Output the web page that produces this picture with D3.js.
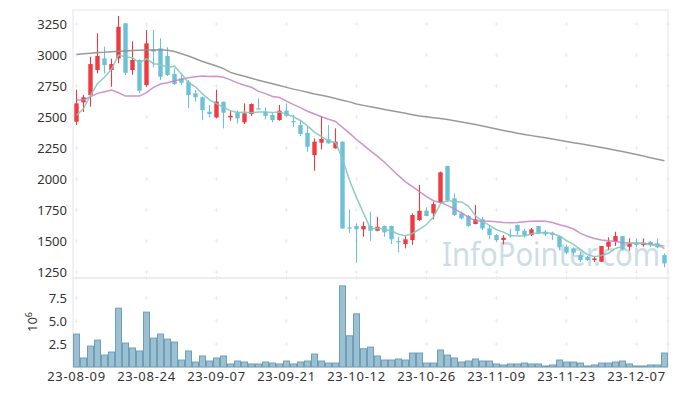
<!DOCTYPE html>
<html>
<head>
<meta charset="utf-8">
<script src="https://cdn.jsdelivr.net/npm/d3@7/dist/d3.min.js"></script>
<style>
  body { margin: 0; background: #fff; }
  svg text { font-family: "Noto Sans", sans-serif; fill: #333; }
</style>
</head>
<body>
<svg id="chart" width="677" height="396"></svg>
<script>
// trading days, 2023-08-09 .. 2023-12-13
const dates = [
  "23-08-09","23-08-10","23-08-11","23-08-14","23-08-16","23-08-17","23-08-18","23-08-21","23-08-22","23-08-23",
  "23-08-24","23-08-25","23-08-28","23-08-29","23-08-30","23-08-31","23-09-01","23-09-04","23-09-05","23-09-06",
  "23-09-07","23-09-08","23-09-11","23-09-12","23-09-13","23-09-14","23-09-15","23-09-18","23-09-19","23-09-20",
  "23-09-21","23-09-22","23-09-25","23-09-26","23-09-27","23-10-04","23-10-05","23-10-06","23-10-10","23-10-11",
  "23-10-12","23-10-13","23-10-16","23-10-17","23-10-18","23-10-19","23-10-20","23-10-23","23-10-24","23-10-25",
  "23-10-26","23-10-27","23-10-30","23-10-31","23-11-01","23-11-02","23-11-03","23-11-06","23-11-07","23-11-08",
  "23-11-09","23-11-10","23-11-13","23-11-14","23-11-15","23-11-16","23-11-17","23-11-20","23-11-21","23-11-22",
  "23-11-23","23-11-24","23-11-27","23-11-28","23-11-29","23-11-30","23-12-01","23-12-04","23-12-05","23-12-06",
  "23-12-07","23-12-08","23-12-11","23-12-12","23-12-13"
];

const opens = [
  2462,2618,2677,2879,2973,2879,2973,3256,2879,2960,
  2758,3046,3054,2992,2847,2812,2785,2691,2659,2543,
  2497,2623,2497,2535,2457,2524,2570,2543,2516,2476,
  2551,2468,2435,2373,2193,2293,2320,2248,2301,1610,
  1621,1594,1621,1583,1621,1621,1500,1476,1508,1669,
  1744,1723,1809,2105,1844,1723,1702,1637,1675,1602,
  1548,1508,1548,1630,1583,1548,1621,1575,1567,1540,
  1454,1441,1387,1373,1347,1333,1454,1494,1540,1454,
  1486,1468,1494,1481,1387
];
const highs = [
  2720,2677,2986,3175,3067,2970,3315,3256,3110,2965,
  3202,3202,3135,3062,2893,2839,2798,2718,2665,2597,
  2720,2625,2551,2551,2610,2610,2651,2578,2530,2597,
  2610,2516,2476,2422,2328,2508,2435,2409,2305,1755,
  1643,1656,1736,1696,1625,1625,1535,1540,1723,1952,
  1772,1817,2060,2108,1885,1736,1710,1790,1696,1621,
  1556,1548,1600,1632,1600,1605,1621,1590,1575,1540,
  1470,1449,1415,1380,1380,1460,1530,1575,1540,1522,
  1522,1522,1500,1520,1400
];
const lows = [
  2435,2540,2583,2852,2852,2744,2933,2839,2840,2691,
  2744,2900,2798,2830,2758,2758,2570,2623,2476,2497,
  2490,2409,2470,2449,2443,2508,2560,2481,2457,2470,
  2502,2422,2347,2220,2067,2239,2285,2245,1598,1567,
  1325,1535,1502,1580,1535,1476,1409,1441,1468,1664,
  1700,1675,1805,1815,1702,1675,1615,1635,1589,1514,
  1494,1473,1528,1548,1527,1540,1555,1540,1508,1427,
  1395,1385,1330,1340,1331,1333,1430,1460,1425,1422,
  1449,1454,1454,1441,1288
];
const closes = [
  2610,2659,2927,2992,2919,2927,3228,2857,2960,2712,
  3094,3027,2825,2839,2766,2777,2677,2659,2556,2524,
  2625,2535,2510,2489,2530,2605,2564,2510,2476,2551,
  2510,2462,2363,2260,2301,2323,2288,2301,1602,1602,
  1594,1621,1583,1615,1570,1514,1495,1514,1710,1744,
  1702,1798,2054,1830,1710,1683,1621,1675,1602,1548,
  1508,1527,1540,1580,1548,1594,1562,1554,1548,1449,
  1406,1406,1347,1347,1360,1460,1494,1540,1433,1486,
  1468,1486,1468,1449,1320
];
// volume in millions of shares
const volumes = [
  3.59,0.98,2.28,2.93,1.30,1.63,6.41,2.61,2.07,1.74,
  5.98,3.15,3.59,3.04,2.72,0.76,1.74,0.54,1.20,0.65,
  0.98,1.20,0.33,0.65,0.54,0.33,0.33,0.54,0.43,0.33,
  0.65,0.33,0.54,0.65,1.41,0.65,0.43,0.43,8.84,3.40,
  5.79,1.99,2.17,1.20,0.76,0.76,0.87,0.76,1.52,1.52,
  0.43,0.43,1.85,1.30,0.98,0.54,0.65,0.87,0.65,0.65,
  0.33,0.22,0.33,0.33,0.43,0.33,0.33,0.11,0.22,0.76,
  0.54,0.54,0.43,0.11,0.22,0.43,0.43,0.54,0.65,0.33,
  0.11,0.11,0.22,0.22,1.52
];

// moving averages as drawn
const ma5 = [
  2514,2568,2675,2770,2821,2885,2999,2985,2978,2937,
  2970,2930,2924,2899,2910,2847,2777,2744,2687,2639,
  2608,2580,2550,2537,2538,2534,2540,2540,2537,2541,
  2522,2502,2472,2429,2379,2342,2307,2295,2163,1990,
  1850,1725,1600,1603,1597,1581,1555,1542,1561,1595,
  1633,1694,1802,1826,1819,1815,1780,1704,1658,1626,
  1591,1572,1545,1541,1541,1558,1565,1568,1561,1541,
  1504,1473,1431,1391,1373,1384,1402,1440,1457,1483,
  1484,1483,1468,1471,1438
];
const ma20 = [
  2637,2637,2664,2691,2704,2718,2696,2669,2669,2669,
  2696,2739,2766,2777,2793,2804,2817,2825,2831,2827,
  2828,2821,2800,2775,2756,2740,2707,2689,2665,2657,
  2628,2600,2576,2547,2524,2502,2482,2464,2416,2370,
  2319,2273,2227,2183,2135,2081,2027,1977,1939,1899,
  1858,1825,1810,1788,1759,1727,1693,1662,1662,1659,
  1655,1650,1648,1650,1655,1660,1662,1660,1650,1632,
  1617,1597,1562,1538,1520,1509,1503,1496,1488,1484,
  1482,1480,1477,1470,1459
];
const maLong = [
  3005,3010,3015,3020,3022,3027,3030,3033,3036,3038,
  3040,3040,3041,3038,3028,3010,2992,2970,2948,2930,
  2912,2890,2860,2843,2828,2812,2797,2783,2768,2754,
  2739,2725,2713,2700,2686,2675,2664,2650,2636,2622,
  2605,2594,2583,2572,2561,2551,2540,2530,2519,2508,
  2502,2495,2489,2480,2470,2460,2450,2439,2427,2415,
  2403,2392,2381,2370,2360,2350,2341,2333,2322,2312,
  2302,2293,2284,2274,2265,2255,2244,2233,2222,2210,
  2197,2185,2172,2160,2148
];

const xTickLabels = ["23-08-09","23-08-24","23-09-07","23-09-21","23-10-12","23-10-26","23-11-09","23-11-23","23-12-07"];
const priceTicks = [1250, 1500, 1750, 2000, 2250, 2500, 2750, 3000, 3250];
const volTicks = [2.5, 5.0, 7.5];

const upColor = "#ef3a3f";
const downColor = "#6cc1d8";

const left = 73, right = 668, priceTop = 10, priceBottom = 278, volBottom = 367;

const svg = d3.select('#chart');

const x = d3.scaleBand().domain(dates).range([left, right]);
const cx = d => x(d) + x.bandwidth() / 2;
const yPrice = d3.scaleLinear().domain([1202, 3363]).range([priceBottom, priceTop]);
const yVol = d3.scaleLinear().domain([0, 9.7]).range([volBottom, priceBottom]);

const rows = dates.map((d, i) => ({
  date: d, open: opens[i], high: highs[i], low: lows[i], close: closes[i], volume: volumes[i]
}));

// panel frames
svg.append('rect')
  .attr('x', left).attr('y', priceTop)
  .attr('width', right - left).attr('height', priceBottom - priceTop)
  .attr('fill', 'none').attr('stroke', '#e6e6e6')
svg.append('rect')
  .attr('x', left).attr('y', priceBottom)
  .attr('width', right - left).attr('height', volBottom - priceBottom)
  .attr('fill', 'none').attr('stroke', '#e6e6e6')

// faint "+" grid markers
const gridX = xTickLabels.map(cx).concat([right]);
const crossPath = (px, py) => `M${px - 2},${py}H${px + 2}M${px},${py - 2}V${py + 2}`;
const crosses = [];
gridX.forEach(gx => {
  priceTicks.forEach(t => crosses.push(crossPath(gx, yPrice(t))));
  volTicks.forEach(t => crosses.push(crossPath(gx, yVol(t))));
  crosses.push(crossPath(gx, priceBottom));
});
svg.append('path')
  .attr('d', crosses.join(''))
  .attr('stroke', '#ececec')
  .attr('stroke-width', 1)
  .attr('fill', 'none')

// watermark
svg.append('text')
  .attr('x', 442).attr('y', 266)
  .attr('textLength', 218)
  .attr('lengthAdjust', 'spacingAndGlyphs')
  .style('font-size', '32px')
  .style('fill', '#c4d8e3')
  .style('opacity', 0.85)
  .text('InfoPointer.com')

// candles
const candles = svg.append('g')
  .selectAll('g')
  .data(rows)
  .enter().append('g')

candles.append('line')
  .attr('x1', d => cx(d.date)).attr('x2', d => cx(d.date))
  .attr('y1', d => yPrice(d.high)).attr('y2', d => yPrice(d.low))
  .attr('stroke', d => d.close >= d.open ? upColor : downColor)
  .attr('stroke-width', 1.1)

candles.append('rect')
  .attr('x', d => cx(d.date) - 2.2)
  .attr('width', 4.4)
  .attr('y', d => yPrice(Math.max(d.open, d.close)))
  .attr('height', d => Math.max(1.2, Math.abs(yPrice(d.open) - yPrice(d.close))))
  .attr('fill', d => d.close >= d.open ? upColor : downColor)

// moving average lines
const maLine = d3.line()
  .x((v, i) => cx(dates[i]))
  .y(v => yPrice(v))

svg.append('path').datum(maLong)
  .attr('d', maLine).attr('fill', 'none')
  .attr('stroke', '#8e8e8e').attr('stroke-width', 1.5).attr('opacity', 0.9)
svg.append('path').datum(ma20)
  .attr('d', maLine).attr('fill', 'none')
  .attr('stroke', '#c681c3').attr('stroke-width', 1.5).attr('opacity', 0.85)
svg.append('path').datum(ma5)
  .attr('d', maLine).attr('fill', 'none')
  .attr('stroke', '#84c8bd').attr('stroke-width', 1.5).attr('opacity', 0.9)

// volume bars
svg.append('g')
  .selectAll('rect')
  .data(rows)
  .enter().append('rect')
  .attr('x', d => x(d.date) + 0.5)
  .attr('width', x.bandwidth() - 1)
  .attr('y', d => yVol(d.volume))
  .attr('height', d => volBottom - yVol(d.volume))
  .attr('fill', '#9cc0d1')
  .attr('stroke', '#6e9fb8')
  .attr('stroke-width', 1)

// axes
const styleAxis = g => {
  g.select('.domain').remove();
  g.selectAll('text').style('font-size', '13px').style('font-family', '"Noto Sans", sans-serif').style('fill', '#333');
};

svg.append('g')
  .attr('transform', `translate(${left},0)`)
  .call(d3.axisLeft(yPrice).tickValues(priceTicks).tickFormat(d3.format('d')).tickSize(0).tickPadding(6))
  .call(styleAxis)

svg.append('g')
  .attr('transform', `translate(${left},0)`)
  .call(d3.axisLeft(yVol).tickValues(volTicks).tickFormat(d3.format('.1f')).tickSize(0).tickPadding(6))
  .call(styleAxis)

svg.append('g')
  .attr('transform', `translate(0,${volBottom})`)
  .call(d3.axisBottom(x).tickValues(xTickLabels).tickSize(0).tickPadding(5))
  .call(styleAxis)
  .selectAll('text').style('letter-spacing', '0.7px')

// volume unit label
const unit = svg.append('text')
  .attr('transform', 'translate(37,322) rotate(-90)')
  .attr('text-anchor', 'middle')
  .style('font-size', '13px')
unit.append('tspan').text('10')
unit.append('tspan').attr('dy', -5).style('font-size', '9px').text('6')
</script>
</body>
</html>
